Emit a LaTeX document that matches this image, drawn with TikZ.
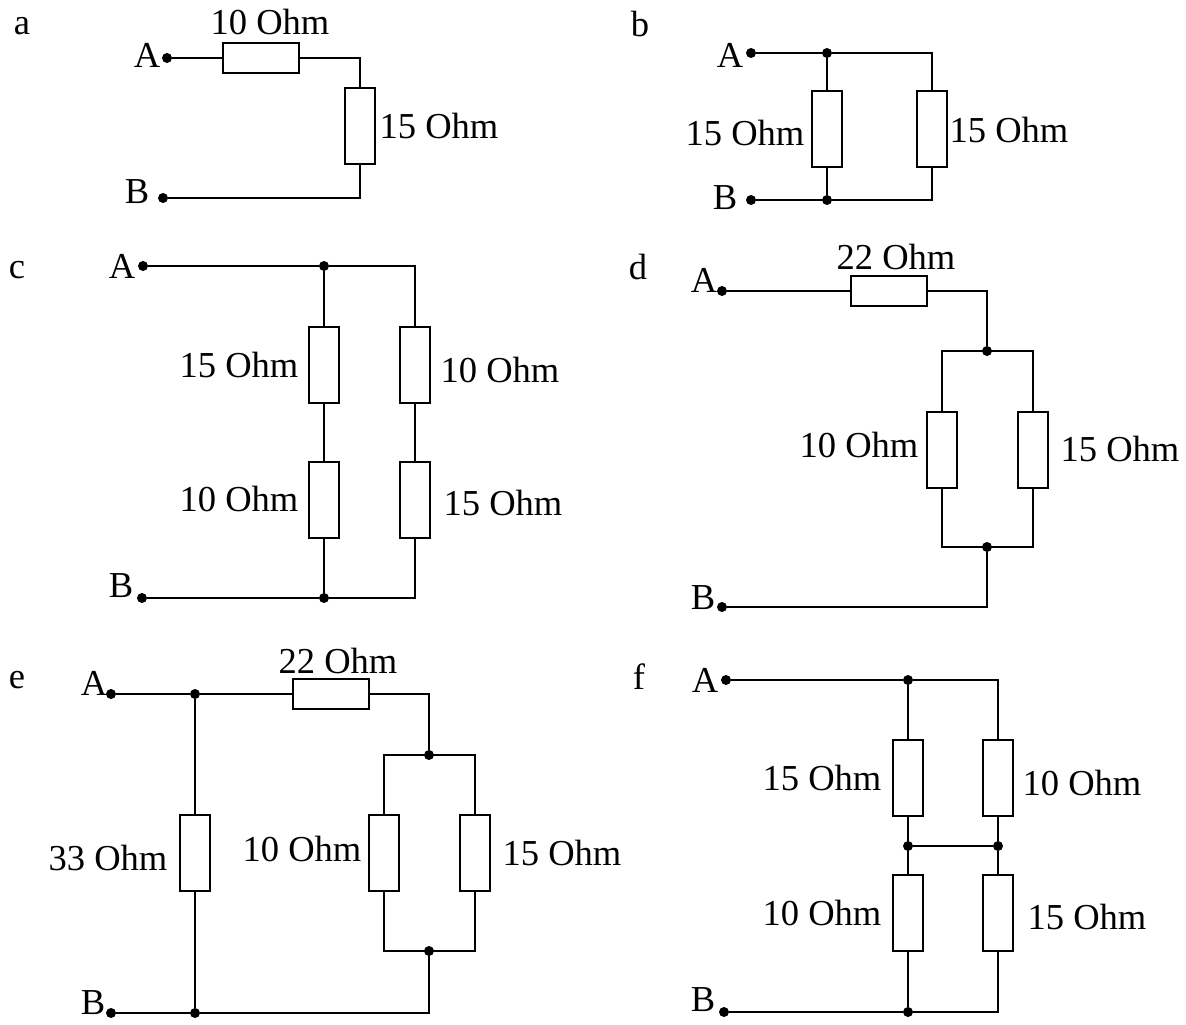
\documentclass[tikz,border=0pt]{standalone}
\usepackage{fontspec}
\setmainfont{Liberation Serif}
\tikzset{
  res/.style={draw,rectangle,line width=1pt,inner sep=0pt,fill=white},
  horiz/.style={res,minimum width=1.52cm,minimum height=0.6cm},
  vert/.style={res,minimum width=0.6cm,minimum height=1.52cm},
  dot/.style={circle,fill=black,inner sep=0pt,minimum size=0.2cm},
  lbl/.style={inner sep=0pt,font=\fontsize{20.8}{24}\selectfont}
}
\begin{document}
\begin{tikzpicture}[x=0.02cm,y=-0.02cm,line width=1pt,line cap=rect]
  \useasboundingbox (0,0) rectangle (1186,1024);
  \draw
    (22,26) node[lbl] (atitle){a}
    (147,55) node[lbl] (aAl){A}
    (137,192) node[lbl] (aBl){B}
    (270,22) node[lbl] (aR1l){10 Ohm}
    (439,126) node[lbl] (aR2l){15 Ohm}
    (167,58) node[dot] (aA){}
    (163,198) node[dot] (aB){}
    (261,58) node[horiz] (aR1){}
    (360,126) node[vert] (aR2){}
    (360,58) coordinate (a1)
    (360,198) coordinate (a2);
  \draw (aA) to (aR1);
  \draw (aR1) to (a1);
  \draw (a1) to (aR2);
  \draw (aR2) to (a2);
  \draw (a2) to (aB);
  \draw
    (640,24) node[lbl] (btitle){b}
    (730,55) node[lbl] (bAl){A}
    (725,198) node[lbl] (bBl){B}
    (745,133) node[lbl] (bR1l){15 Ohm}
    (1009,130) node[lbl] (bR2l){15 Ohm}
    (751,53) node[dot] (bA){}
    (751,200) node[dot] (bB){}
    (827,53) node[dot] (b1){}
    (827,200) node[dot] (b2){}
    (932,53) coordinate (b3)
    (932,200) coordinate (b4)
    (827,129) node[vert] (bR1){}
    (932,129) node[vert] (bR2){};
  \draw (bA) to (b1);
  \draw (b1) to (b3);
  \draw (b1) to (bR1);
  \draw (bR1) to (b2);
  \draw (b3) to (bR2);
  \draw (bR2) to (b4);
  \draw (bB) to (b2);
  \draw (b2) to (b4);
  \draw
    (17,270) node[lbl] (ctitle){c}
    (122,266) node[lbl] (cAl){A}
    (121,586) node[lbl] (cBl){B}
    (239,365) node[lbl] (cR1l){15 Ohm}
    (239,499) node[lbl] (cR2l){10 Ohm}
    (500,370) node[lbl] (cR3l){10 Ohm}
    (503,503) node[lbl] (cR4l){15 Ohm}
    (143,266) node[dot] (cA){}
    (142,598) node[dot] (cB){}
    (324,266) node[dot] (c1){}
    (324,598) node[dot] (c2){}
    (415,266) coordinate (c3)
    (415,598) coordinate (c4)
    (324,365) node[vert] (cR1){}
    (324,500) node[vert] (cR2){}
    (415,365) node[vert] (cR3){}
    (415,500) node[vert] (cR4){};
  \draw (cA) to (c1);
  \draw (c1) to (c3);
  \draw (c1) to (cR1);
  \draw (cR1) to (cR2);
  \draw (cR2) to (c2);
  \draw (c3) to (cR3);
  \draw (cR3) to (cR4);
  \draw (cR4) to (c4);
  \draw (cB) to (c2);
  \draw (c2) to (c4);
  \draw
    (638,267) node[lbl] (dtitle){d}
    (704,280) node[lbl] (dAl){A}
    (703,598) node[lbl] (dBl){B}
    (896,257) node[lbl] (dR1l){22 Ohm}
    (859,445) node[lbl] (dR2l){10 Ohm}
    (1120,449) node[lbl] (dR3l){15 Ohm}
    (722,291) node[dot] (dA){}
    (722,607) node[dot] (dB){}
    (889,291) node[horiz] (dR1){}
    (987,291) coordinate (d1)
    (987,351) node[dot] (d2){}
    (942,351) coordinate (d3)
    (1033,351) coordinate (d4)
    (942,450) node[vert] (dR2){}
    (1033,450) node[vert] (dR3){}
    (942,547) coordinate (d5)
    (1033,547) coordinate (d6)
    (987,547) node[dot] (d7){}
    (987,607) coordinate (d8);
  \draw (dA) to (dR1);
  \draw (dR1) to (d1);
  \draw (d1) to (d2);
  \draw (d3) to (d4);
  \draw (d3) to (dR2);
  \draw (dR2) to (d5);
  \draw (d4) to (dR3);
  \draw (dR3) to (d6);
  \draw (d5) to (d6);
  \draw (d7) to (d8);
  \draw (d8) to (dB);
  \draw
    (17,680) node[lbl] (etitle){e}
    (94,683) node[lbl] (eAl){A}
    (93,1003) node[lbl] (eBl){B}
    (338,661) node[lbl] (eR1l){22 Ohm}
    (108,858) node[lbl] (eR2l){33 Ohm}
    (302,849) node[lbl] (eR3l){10 Ohm}
    (562,853) node[lbl] (eR4l){15 Ohm}
    (111,694) node[dot] (eA){}
    (111,1013) node[dot] (eB){}
    (195,694) node[dot] (e1){}
    (195,1013) node[dot] (e2){}
    (331,694) node[horiz] (eR1){}
    (195,853) node[vert] (eR2){}
    (429,694) coordinate (e3)
    (429,755) node[dot] (e4){}
    (384,755) coordinate (e5)
    (475,755) coordinate (e6)
    (384,853) node[vert] (eR3){}
    (475,853) node[vert] (eR4){}
    (384,951) coordinate (e7)
    (475,951) coordinate (e8)
    (429,951) node[dot] (e9){}
    (429,1013) coordinate (e10);
  \draw (eA) to (e1);
  \draw (e1) to (eR1);
  \draw (eR1) to (e3);
  \draw (e3) to (e4);
  \draw (e5) to (e6);
  \draw (e5) to (eR3);
  \draw (eR3) to (e7);
  \draw (e6) to (eR4);
  \draw (eR4) to (e8);
  \draw (e7) to (e8);
  \draw (e9) to (e10);
  \draw (e10) to (e2);
  \draw (e2) to (eB);
  \draw (e1) to (eR2);
  \draw (eR2) to (e2);
  \draw
    (639,677) node[lbl] (ftitle){f}
    (705,680) node[lbl] (fAl){A}
    (703,1000) node[lbl] (fBl){B}
    (822,778) node[lbl] (fR1l){15 Ohm}
    (1082,783) node[lbl] (fR2l){10 Ohm}
    (822,913) node[lbl] (fR3l){10 Ohm}
    (1087,917) node[lbl] (fR4l){15 Ohm}
    (726,680) node[dot] (fA){}
    (724,1012) node[dot] (fB){}
    (908,680) node[dot] (f1){}
    (998,680) coordinate (f2)
    (908,846) node[dot] (f3){}
    (998,846) node[dot] (f4){}
    (908,1012) node[dot] (f5){}
    (998,1012) coordinate (f6)
    (908,778) node[vert] (fR1){}
    (998,778) node[vert] (fR2){}
    (908,913) node[vert] (fR3){}
    (998,913) node[vert] (fR4){};
  \draw (fA) to (f1);
  \draw (f1) to (f2);
  \draw (f1) to (fR1);
  \draw (fR1) to (f3);
  \draw (f3) to (fR3);
  \draw (fR3) to (f5);
  \draw (f2) to (fR2);
  \draw (fR2) to (f4);
  \draw (f4) to (fR4);
  \draw (fR4) to (f6);
  \draw (f3) to (f4);
  \draw (fB) to (f5);
  \draw (f5) to (f6);
\end{tikzpicture}
\end{document}
